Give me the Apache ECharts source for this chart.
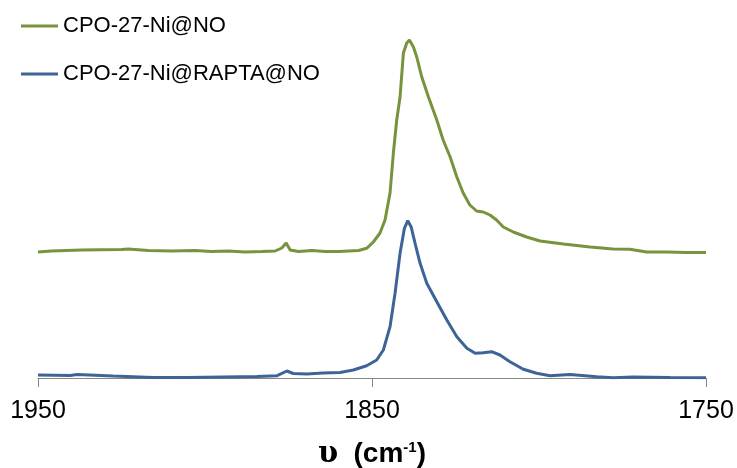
<!DOCTYPE html>
<html>
<head>
<meta charset="utf-8">
<script src="https://cdn.jsdelivr.net/npm/echarts@6/dist/echarts.min.js"></script>
<style>
  html, body { margin: 0; padding: 0; background: #fff; }
  #chart { width: 737px; height: 468px; }
</style>
</head>
<body>
<div id="chart"></div>
<script>
// wavenumbers (cm-1) and relative intensity
const greenWave = [1950, 1946, 1937, 1925, 1923, 1917, 1910, 1903, 1898, 1893, 1888, 1883, 1879, 1877, 1875.7, 1874.5, 1872, 1868, 1864, 1860, 1857, 1854, 1851.6, 1849.6, 1847.6, 1846.1, 1844.6, 1843.6, 1842.6, 1841.6, 1840.6, 1839.6, 1838.8, 1837.6, 1836.6, 1835.1, 1833.1, 1830.6, 1828.7, 1826.6, 1824.6, 1822.7, 1820.7, 1818.7, 1816.7, 1814.7, 1812.7, 1810.7, 1807.7, 1803.7, 1799.7, 1792.7, 1784.7, 1777.8, 1772.8, 1767.8, 1761.8, 1755.8, 1750];
const greenHeight = [126, 127, 128, 128.5, 129, 127.5, 127, 127.5, 126.5, 127, 126, 126.5, 127, 130, 135, 128, 126.5, 127.5, 126.5, 126.5, 127, 127.5, 129.7, 136, 145, 158, 185, 225, 258, 281, 325, 335, 338, 331, 321, 301, 281, 258, 238, 221, 201, 185, 173, 167, 166, 163, 158, 151, 146, 141, 137, 134, 131, 129, 128.7, 126, 126, 125.5, 125.5];

const blueWave = [1950, 1940.4, 1938.3, 1927.5, 1915.6, 1905.4, 1894.6, 1884.4, 1878.4, 1875.5, 1873.6, 1869.5, 1864.7, 1859.6, 1855.6, 1851.6, 1848.6, 1846.6, 1844.6, 1843.1, 1841.6, 1840.3, 1839.3, 1838.3, 1837.1, 1835.6, 1833.6, 1830.6, 1827.6, 1824.6, 1821.6, 1819.1, 1816.7, 1814.2, 1811.7, 1808.7, 1804.7, 1800.7, 1796.7, 1790.7, 1782.7, 1777.8, 1771.9, 1760.8, 1750];
const blueHeight = [3, 2.5, 3.5, 2, 0.5, 0.5, 1, 1.5, 2.3, 7, 4.5, 4, 5, 5.5, 8, 12.3, 18, 28, 51.3, 84.7, 124.7, 149.7, 157.3, 151.3, 134.7, 114.7, 94.7, 76.3, 58, 41.3, 29.7, 24.7, 25.3, 26.3, 23, 16.3, 8.7, 4.7, 2.3, 3.5, 1.3, 0.3, 1, 0.5, 0.3];

const seriesNames = ['CPO-27-Ni@NO', 'CPO-27-Ni@RAPTA@NO'];
const xTicks = [1750, 1850, 1950];

function pairs(xs, ys) {
  let out = [];
  for (let i = 0; i < xs.length; i++) out.push([xs[i], ys[i]]);
  return out;
}

const myChart = echarts.init(document.getElementById('chart'));

let option = {
  animation: false,
  backgroundColor: '#fff',
  grid: { left: 38, right: 31, top: 38, bottom: 90, outerBoundsMode: 'none' },
  legend: {
    orient: 'vertical',
    left: 16,
    top: 10,
    itemGap: 26,
    itemWidth: 37,
    itemHeight: 3,
    icon: 'rect',
    data: seriesNames,
    textStyle: { fontFamily: 'Liberation Sans', fontSize: 22, color: '#000' }
  },
  xAxis: {
    type: 'value',
    min: 1750,
    max: 1950,
    inverse: true,
    splitLine: { show: false },
    axisLine: { lineStyle: { color: '#868686', width: 1 } },
    axisTick: { show: true, length: 9, lineStyle: { color: '#868686' }, customValues: xTicks },
    axisLabel: {
      customValues: xTicks,
      margin: 21,
      fontFamily: 'Liberation Sans',
      fontSize: 25,
      color: '#000',
      formatter: function (v) { return String(v); }
    },
    name: '{u|υ} {b|(cm}{s|-1}{b|)}',
    nameLocation: 'middle',
    nameGap: 62,
    nameTextStyle: {
      rich: {
        u: { fontFamily: 'DejaVu Serif', fontWeight: 'bold', fontSize: 29, color: '#000', padding: [0, 12, 0, 0] },
        b: { fontFamily: 'Liberation Sans', fontWeight: 'bold', fontSize: 28, color: '#000' },
        s: { fontFamily: 'Liberation Sans', fontWeight: 'bold', fontSize: 15, color: '#000', verticalAlign: 'top', padding: [0, 0, 10, 0] }
      }
    }
  },
  yAxis: {
    type: 'value',
    min: 0,
    max: 340,
    show: false
  },
  series: [
    {
      name: seriesNames[0],
      type: 'line',
      showSymbol: false,
      color: '#77933C',
      lineStyle: { width: 3, color: '#77933C' },
      data: pairs(greenWave, greenHeight)
    },
    {
      name: seriesNames[1],
      type: 'line',
      showSymbol: false,
      color: '#3C6497',
      lineStyle: { width: 3, color: '#3C6497' },
      data: pairs(blueWave, blueHeight)
    }
  ]
};

myChart.setOption(option);
</script>
</body>
</html>
